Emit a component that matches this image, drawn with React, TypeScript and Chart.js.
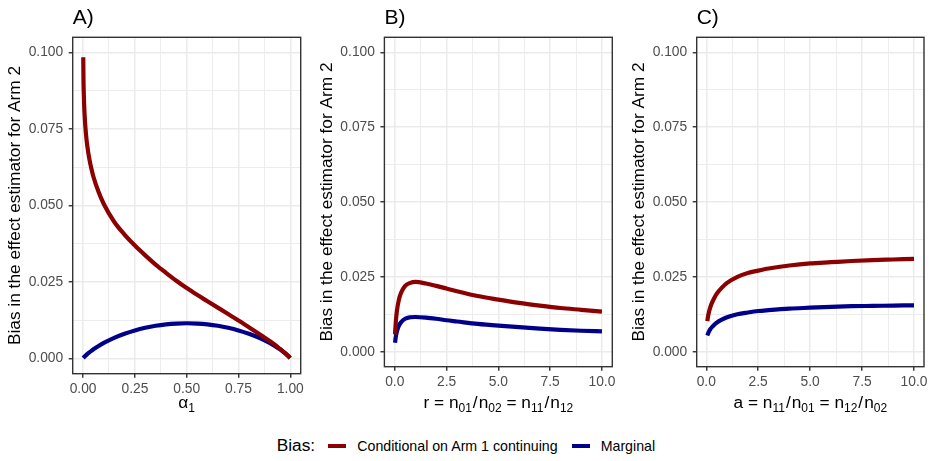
import React, { useEffect, useRef } from 'react';
import { Chart, registerables } from 'chart.js';

Chart.register(...registerables);

const FONT = '"Liberation Sans", Arial, Helvetica, sans-serif';
const RED = '#8B0000';
const BLUE = '#00008B';
const TICK_GREY = '#4D4D4D';
const GRID = '#EBEBEB';
const FRAME = '#333333';
const TICK_SIZE = 13.8;

const SERIES_LABELS = ['Conditional on Arm 1 continuing', 'Marginal'];
const Y_AXIS_TITLE = 'Bias in the effect estimator for Arm 2';

// Shared y axis
const Y_MAJOR = [0, 0.025, 0.05, 0.075, 0.1];
const Y_MINOR = [0.0125, 0.0375, 0.0625, 0.0875];

// Panel A: bias against alpha_1
const alpha1 = [0.001, 0.002, 0.003, 0.005, 0.0075, 0.01, 0.015, 0.02, 0.03, 0.04,
  0.05, 0.075, 0.1, 0.15, 0.2, 0.25, 0.3, 0.35, 0.4, 0.45,
  0.5, 0.55, 0.6, 0.65, 0.7, 0.75, 0.8, 0.85, 0.9, 0.925,
  0.95, 0.97, 0.98, 0.99, 0.999];
const condA = [0.0985, 0.0913, 0.0878, 0.0833, 0.0796, 0.0768, 0.0727, 0.0697, 0.0653, 0.0621,
  0.0594, 0.0544, 0.0505, 0.0447, 0.0405, 0.0369, 0.0337, 0.0307, 0.0280, 0.0254,
  0.0230, 0.0208, 0.0187, 0.0166, 0.0145, 0.0124, 0.0102, 0.0080, 0.0057, 0.0045,
  0.0031, 0.0020, 0.00142, 0.00078, 0.0001];
const margA = [0.0001, 0.00018, 0.00026, 0.00042, 0.0006, 0.00077, 0.00109, 0.00139, 0.00196, 0.00248,
  0.00297, 0.00408, 0.00505, 0.00671, 0.00806, 0.00915, 0.01001, 0.01067, 0.01113, 0.0114,
  0.01149, 0.0114, 0.01113, 0.01067, 0.01001, 0.00915, 0.00806, 0.00671, 0.00505, 0.00408,
  0.00297, 0.00196, 0.00139, 0.00077, 0.0001];
const A_X_MAJOR = [0, 0.25, 0.5, 0.75, 1];
const A_X_MINOR = [0.125, 0.375, 0.625, 0.875];

// Panel B: bias against r
const rRatio = [0.015, 0.025, 0.05, 0.1, 0.2, 0.3, 0.5, 0.75, 1, 1.5,
  2, 2.5, 3, 4, 5, 6, 7, 8, 9, 10];
const condB = [0.0058, 0.0073, 0.0099, 0.0134, 0.0174, 0.0196, 0.0220, 0.0230, 0.0233, 0.0228,
  0.0220, 0.0211, 0.0202, 0.0186, 0.0174, 0.0163, 0.0154, 0.0146, 0.0140, 0.0134];
const margB = [0.0030, 0.0037, 0.0050, 0.0067, 0.0087, 0.0098, 0.0110, 0.0115, 0.0116, 0.0114,
  0.0110, 0.0105, 0.0101, 0.0093, 0.0087, 0.0082, 0.0077, 0.0073, 0.0070, 0.0068];

// Panel C: bias against a
const aRatio = [0.05, 0.1, 0.2, 0.3, 0.4, 0.5, 0.75, 1, 1.5, 2,
  2.5, 3, 4, 5, 6, 7, 8, 9, 10];
const condC = [0.0102, 0.0124, 0.0150, 0.0167, 0.0181, 0.0193, 0.0214, 0.0230, 0.0250, 0.0263,
  0.0271, 0.0278, 0.0288, 0.0295, 0.0299, 0.0303, 0.0306, 0.0308, 0.0310];
const margC = [0.0054, 0.0063, 0.0076, 0.0084, 0.0091, 0.0097, 0.0107, 0.0115, 0.0125, 0.0131,
  0.0136, 0.0139, 0.0144, 0.0147, 0.0150, 0.0152, 0.0153, 0.0154, 0.0155];
const BC_X_MAJOR = [0, 2.5, 5, 7.5, 10];
const BC_X_MINOR = [1.25, 3.75, 6.25, 8.75];

type PanelSpec = {
  tag: string;
  x: number[];
  cond: number[];
  marg: number[];
  xMin: number;
  xMax: number;
  xMajor: number[];
  xMinor: number[];
  xDigits: number;
  canvasLeft: number;
  yAxisWidth: number;
  padRight: number;
  xAxisHeight: number;
};

const PANELS: PanelSpec[] = [
  { tag: 'A)', x: alpha1, cond: condA, marg: margA, xMin: -0.05, xMax: 1.05, xMajor: A_X_MAJOR, xMinor: A_X_MINOR, xDigits: 2,
    canvasLeft: 0, yAxisWidth: 72.7, padRight: 19.3, xAxisHeight: 46.3 },
  { tag: 'B)', x: rRatio, cond: condB, marg: margB, xMin: -0.5, xMax: 10.5, xMajor: BC_X_MAJOR, xMinor: BC_X_MINOR, xDigits: 1,
    canvasLeft: 312, yAxisWidth: 72.4, padRight: 19.7, xAxisHeight: 53.3 },
  { tag: 'C)', x: aRatio, cond: condC, marg: margC, xMin: -0.46, xMax: 10.48, xMajor: BC_X_MAJOR, xMinor: BC_X_MINOR, xDigits: 1,
    canvasLeft: 624, yAxisWidth: 72.7, padRight: 20, xAxisHeight: 53.3 },
];

const CANVAS_W = 320;
const CANVAS_H = 420;
const PLOT_TOP = 37.3;

const isIn = (list: number[], v: number) => list.some((m) => Math.abs(m - v) < 1e-9);

const panelFrame = {
  id: 'panelFrame',
  afterDraw(chart: any) {
    const { ctx, chartArea: a } = chart;
    ctx.save();
    ctx.strokeStyle = FRAME;
    ctx.lineWidth = 1.4;
    ctx.strokeRect(a.left, a.top, a.right - a.left, a.bottom - a.top);
    ctx.restore();
  },
};

function gridFor(major: number[]) {
  return {
    color: GRID,
    lineWidth: (c: any) => (c.tick && isIn(major, c.tick.value) ? 1.5 : 0.9),
    tickColor: (c: any) => (c.tick && isIn(major, c.tick.value) ? FRAME : 'rgba(0,0,0,0)'),
    tickWidth: 1.4,
    tickLength: 4,
    drawTicks: true,
  };
}

function buildChart(canvas: HTMLCanvasElement, p: PanelSpec) {
  const xTicks = [...p.xMajor, ...p.xMinor].sort((a, b) => a - b);
  const yTicks = [...Y_MAJOR, ...Y_MINOR].sort((a, b) => a - b);
  return new Chart(canvas, {
    type: 'line',
    data: {
      datasets: [
        {
          label: SERIES_LABELS[0],
          data: p.x.map((x, i) => ({ x, y: p.cond[i] })),
          borderColor: RED,
          backgroundColor: RED,
          borderWidth: 4.2,
          pointRadius: 0,
          cubicInterpolationMode: 'monotone',
          fill: false,
        },
        {
          label: SERIES_LABELS[1],
          data: p.x.map((x, i) => ({ x, y: p.marg[i] })),
          borderColor: BLUE,
          backgroundColor: BLUE,
          borderWidth: 4.2,
          pointRadius: 0,
          cubicInterpolationMode: 'monotone',
          fill: false,
        },
      ],
    },
    options: {
      animation: false,
      responsive: false,
      events: [],
      layout: { padding: { left: 0, top: PLOT_TOP, right: p.padRight, bottom: 0 } },
      plugins: {
        legend: { display: false },
        tooltip: { enabled: false },
        title: { display: false },
      },
      scales: {
        x: {
          type: 'linear',
          position: 'bottom',
          min: p.xMin,
          max: p.xMax,
          bounds: 'data',
          afterBuildTicks: (s: any) => {
            s.ticks = xTicks.map((value) => ({ value }));
          },
          afterFit: (s: any) => {
            s.height = p.xAxisHeight;
          },
          ticks: {
            autoSkip: false,
            maxRotation: 0,
            minRotation: 0,
            padding: 3,
            color: TICK_GREY,
            font: { family: FONT, size: TICK_SIZE },
            callback: (v: any) => (isIn(p.xMajor, Number(v)) ? Number(v).toFixed(p.xDigits) : ''),
          },
          grid: gridFor(p.xMajor),
          border: { display: false },
        },
        y: {
          type: 'linear',
          position: 'left',
          min: -0.005,
          max: 0.105,
          bounds: 'data',
          afterBuildTicks: (s: any) => {
            s.ticks = yTicks.map((value) => ({ value }));
          },
          afterFit: (s: any) => {
            s.width = p.yAxisWidth;
          },
          ticks: {
            autoSkip: false,
            padding: 5.5,
            color: TICK_GREY,
            font: { family: FONT, size: TICK_SIZE },
            callback: (v: any) => (isIn(Y_MAJOR, Number(v)) ? Number(v).toFixed(3) : ''),
          },
          title: {
            display: true,
            text: Y_AXIS_TITLE,
            color: '#000000',
            font: { family: FONT, size: 17.3 },
            padding: { top: 5, bottom: 0 },
          },
          grid: gridFor(Y_MAJOR),
          border: { display: false },
        },
      },
    } as any,
    plugins: [panelFrame],
  });
}

const Sub = ({ children }: { children: React.ReactNode }) => (
  <span style={{ fontSize: 12, position: 'relative', top: 4 }}>{children}</span>
);
const Slash = () => <span style={{ padding: '0 1px' }}>/</span>;

const X_TITLES: React.ReactNode[] = [
  <>α<Sub>1</Sub></>,
  <>r = n<Sub>01</Sub><Slash />n<Sub>02</Sub> = n<Sub>11</Sub><Slash />n<Sub>12</Sub></>,
  <>a = n<Sub>11</Sub><Slash />n<Sub>01</Sub> = n<Sub>12</Sub><Slash />n<Sub>02</Sub></>,
];

export default function App() {
  const refA = useRef<HTMLCanvasElement>(null);
  const refB = useRef<HTMLCanvasElement>(null);
  const refC = useRef<HTMLCanvasElement>(null);
  const refs = [refA, refB, refC];

  useEffect(() => {
    const charts = PANELS.map((p, i) => buildChart(refs[i].current as HTMLCanvasElement, p));
    return () => charts.forEach((c) => c.destroy());
  }, []);

  const text = (extra: React.CSSProperties): React.CSSProperties => ({
    position: 'absolute',
    lineHeight: 1,
    whiteSpace: 'nowrap',
    color: '#000',
    ...extra,
  });

  return (
    <div
      style={{
        position: 'absolute',
        left: 0,
        top: 0,
        width: 934,
        height: 461,
        overflow: 'hidden',
        background: '#ffffff',
        fontFamily: FONT,
      }}
    >
      {PANELS.map((p, i) => (
        <canvas
          key={p.tag}
          ref={refs[i]}
          width={CANVAS_W}
          height={CANVAS_H}
          style={{ position: 'absolute', left: p.canvasLeft, top: 0, width: CANVAS_W, height: CANVAS_H }}
        />
      ))}

      {PANELS.map((p) => (
        <div key={'t' + p.tag} style={text({ left: p.canvasLeft + p.yAxisWidth, top: 6.2, fontSize: 21 })}>
          {p.tag}
        </div>
      ))}

      {PANELS.map((p, i) => {
        const left = p.canvasLeft + p.yAxisWidth;
        const width = CANVAS_W - p.padRight - p.yAxisWidth;
        return (
          <div
            key={'x' + p.tag}
            style={text({ left, width, textAlign: 'center', top: i === 0 ? 393.9 : 393.7, fontSize: 17.3 })}
          >
            {X_TITLES[i]}
          </div>
        );
      })}

      <div style={text({ left: 276.7, top: 437.35, fontSize: 17.3 })}>Bias:</div>
      <div style={{ position: 'absolute', left: 328.3, top: 444, width: 17.7, height: 4, background: RED }} />
      <div style={text({ left: 357.3, top: 438.6, fontSize: 14.2 })}>{SERIES_LABELS[0]}</div>
      <div style={{ position: 'absolute', left: 571.7, top: 444, width: 18.3, height: 4, background: BLUE }} />
      <div style={text({ left: 600.7, top: 438.6, fontSize: 14.2 })}>{SERIES_LABELS[1]}</div>
    </div>
  );
}
